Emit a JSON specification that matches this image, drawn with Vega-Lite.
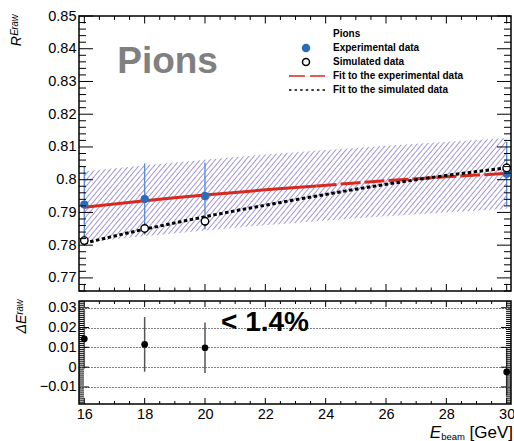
{
"$schema":"https://vega.github.io/schema/vega-lite/v6.json",
"background":"white",
"padding":{"left":8,"top":7,"right":0,"bottom":0},
"bounds":"flush",
"spacing":10,
"config":{"view":{"stroke":"black","strokeWidth":1.5},"font":"Liberation Sans",
"axis":{"domain":false,"grid":false,"labelFont":"Liberation Sans","labelFontSize":14.5,"labelColor":"black","labelOverlap":false,"labelFlush":false,"labelBound":false,"titleFont":"Liberation Sans","titleFontSize":14,"titleColor":"black","titleFontWeight":"normal"}},
"resolve":{"scale":{"fill":"independent","stroke":"independent","shape":"independent"}},
"datasets":{
"band":[{"E":16,"lo":0.7808,"hi":0.8026},{"E":18,"lo":0.7827,"hi":0.8044},{"E":20,"lo":0.7845,"hi":0.8061},{"E":22,"lo":0.7861,"hi":0.8077},{"E":24,"lo":0.7875,"hi":0.8091},{"E":26,"lo":0.7888,"hi":0.8104},{"E":28,"lo":0.79,"hi":0.8116},{"E":30,"lo":0.7911,"hi":0.8127}],
"pts":[{"series":"Experimental data","E":16,"R":0.7924,"lo":0.7807,"hi":0.8041},{"series":"Experimental data","E":18,"R":0.7941,"lo":0.7832,"hi":0.805},{"series":"Experimental data","E":20,"R":0.795,"lo":0.7848,"hi":0.8052},{"series":"Experimental data","E":30,"R":0.8018,"lo":0.7921,"hi":0.8115},{"series":"Simulated data","E":16,"R":0.7814,"lo":0.7799,"hi":0.7829},{"series":"Simulated data","E":18,"R":0.7851,"lo":0.7836,"hi":0.7866},{"series":"Simulated data","E":20,"R":0.7873,"lo":0.7858,"hi":0.7888},{"series":"Simulated data","E":30,"R":0.8036,"lo":0.8021,"hi":0.8051}],
"fitExpSolid":[{"E":16,"R":0.7916},{"E":17,"R":0.7926},{"E":18,"R":0.7936},{"E":19,"R":0.7945},{"E":20,"R":0.7953},{"E":21,"R":0.7961},{"E":22,"R":0.7969},{"E":23,"R":0.7976},{"E":23.7,"R":0.7981}],
"fitExpDash":[{"E":23.7,"R":0.7981},{"E":25,"R":0.799},{"E":26,"R":0.7997},{"E":27,"R":0.8003},{"E":28,"R":0.8009},{"E":29,"R":0.8014},{"E":30,"R":0.8019}],
"fitSim":[{"E":16,"R":0.7806},{"E":17,"R":0.7828},{"E":18,"R":0.7849},{"E":19,"R":0.7868},{"E":20,"R":0.7887},{"E":21,"R":0.7905},{"E":22,"R":0.7922},{"E":23,"R":0.7939},{"E":24,"R":0.7955},{"E":25,"R":0.7971},{"E":26,"R":0.7986},{"E":27,"R":0.8},{"E":28,"R":0.8013},{"E":29,"R":0.8025},{"E":30,"R":0.8036}],
"diff":[{"E":16,"d":0.0143,"lo":-0.0007,"hi":0.0293},{"E":18,"d":0.0115,"lo":-0.0023,"hi":0.0253},{"E":20,"d":0.0098,"lo":-0.003,"hi":0.0226},{"E":30,"d":-0.0024,"lo":-0.0144,"hi":0.0096}],
"tkX":[{"v":16},{"v":16.5},{"v":17},{"v":17.5},{"v":18},{"v":18.5},{"v":19},{"v":19.5},{"v":20},{"v":20.5},{"v":21},{"v":21.5},{"v":22},{"v":22.5},{"v":23},{"v":23.5},{"v":24},{"v":24.5},{"v":25},{"v":25.5},{"v":26},{"v":26.5},{"v":27},{"v":27.5},{"v":28},{"v":28.5},{"v":29},{"v":29.5},{"v":30}],
"tkYTop":[{"v":0.766},{"v":0.768},{"v":0.77},{"v":0.772},{"v":0.774},{"v":0.776},{"v":0.778},{"v":0.78},{"v":0.782},{"v":0.784},{"v":0.786},{"v":0.788},{"v":0.79},{"v":0.792},{"v":0.794},{"v":0.796},{"v":0.798},{"v":0.8},{"v":0.802},{"v":0.804},{"v":0.806},{"v":0.808},{"v":0.81},{"v":0.812},{"v":0.814},{"v":0.816},{"v":0.818},{"v":0.82},{"v":0.822},{"v":0.824},{"v":0.826},{"v":0.828},{"v":0.83},{"v":0.832},{"v":0.834},{"v":0.836},{"v":0.838},{"v":0.84},{"v":0.842},{"v":0.844},{"v":0.846},{"v":0.848},{"v":0.85}],
"tkYBot":[{"v":-0.018},{"v":-0.017},{"v":-0.016},{"v":-0.015},{"v":-0.014},{"v":-0.013},{"v":-0.012},{"v":-0.011},{"v":-0.01},{"v":-0.009},{"v":-0.008},{"v":-0.007},{"v":-0.006},{"v":-0.005},{"v":-0.004},{"v":-0.003},{"v":-0.002},{"v":-0.001},{"v":0},{"v":0.001},{"v":0.002},{"v":0.003},{"v":0.004},{"v":0.005},{"v":0.006},{"v":0.007},{"v":0.008},{"v":0.009},{"v":0.01},{"v":0.011},{"v":0.012},{"v":0.013},{"v":0.014},{"v":0.015},{"v":0.016},{"v":0.017},{"v":0.018},{"v":0.019},{"v":0.02},{"v":0.021},{"v":0.022},{"v":0.023},{"v":0.024},{"v":0.025},{"v":0.026},{"v":0.027},{"v":0.028},{"v":0.029},{"v":0.03},{"v":0.031},{"v":0.032},{"v":0.033}]
},
"vconcat":[
{"width":432,"height":275,
"layer":[
{"data":{"name":"band"},
"mark":{"type":"area","stroke":null,"fill":{"gradient":"linear","x1":0,"y1":0,"x2":1.1575,"y2":0.2396,"stops":[
{"offset":0,"color":"#fff"},{"offset":0.0025,"color":"#a194d8"},{"offset":0.005,"color":"#fff"},
{"offset":0.01,"color":"#fff"},{"offset":0.0125,"color":"#a194d8"},{"offset":0.015,"color":"#fff"},
{"offset":0.02,"color":"#fff"},{"offset":0.0225,"color":"#a194d8"},{"offset":0.025,"color":"#fff"},
{"offset":0.03,"color":"#fff"},{"offset":0.0325,"color":"#a194d8"},{"offset":0.035,"color":"#fff"},
{"offset":0.04,"color":"#fff"},{"offset":0.0425,"color":"#a194d8"},{"offset":0.045,"color":"#fff"},
{"offset":0.05,"color":"#fff"},{"offset":0.0525,"color":"#a194d8"},{"offset":0.055,"color":"#fff"},
{"offset":0.06,"color":"#fff"},{"offset":0.0625,"color":"#a194d8"},{"offset":0.065,"color":"#fff"},
{"offset":0.07,"color":"#fff"},{"offset":0.0725,"color":"#a194d8"},{"offset":0.075,"color":"#fff"},
{"offset":0.08,"color":"#fff"},{"offset":0.0825,"color":"#a194d8"},{"offset":0.085,"color":"#fff"},
{"offset":0.09,"color":"#fff"},{"offset":0.0925,"color":"#a194d8"},{"offset":0.095,"color":"#fff"},
{"offset":0.1,"color":"#fff"},{"offset":0.1025,"color":"#a194d8"},{"offset":0.105,"color":"#fff"},
{"offset":0.11,"color":"#fff"},{"offset":0.1125,"color":"#a194d8"},{"offset":0.115,"color":"#fff"},
{"offset":0.12,"color":"#fff"},{"offset":0.1225,"color":"#a194d8"},{"offset":0.125,"color":"#fff"},
{"offset":0.13,"color":"#fff"},{"offset":0.1325,"color":"#a194d8"},{"offset":0.135,"color":"#fff"},
{"offset":0.14,"color":"#fff"},{"offset":0.1425,"color":"#a194d8"},{"offset":0.145,"color":"#fff"},
{"offset":0.15,"color":"#fff"},{"offset":0.1525,"color":"#a194d8"},{"offset":0.155,"color":"#fff"},
{"offset":0.16,"color":"#fff"},{"offset":0.1625,"color":"#a194d8"},{"offset":0.165,"color":"#fff"},
{"offset":0.17,"color":"#fff"},{"offset":0.1725,"color":"#a194d8"},{"offset":0.175,"color":"#fff"},
{"offset":0.18,"color":"#fff"},{"offset":0.1825,"color":"#a194d8"},{"offset":0.185,"color":"#fff"},
{"offset":0.19,"color":"#fff"},{"offset":0.1925,"color":"#a194d8"},{"offset":0.195,"color":"#fff"},
{"offset":0.2,"color":"#fff"},{"offset":0.2025,"color":"#a194d8"},{"offset":0.205,"color":"#fff"},
{"offset":0.21,"color":"#fff"},{"offset":0.2125,"color":"#a194d8"},{"offset":0.215,"color":"#fff"},
{"offset":0.22,"color":"#fff"},{"offset":0.2225,"color":"#a194d8"},{"offset":0.225,"color":"#fff"},
{"offset":0.23,"color":"#fff"},{"offset":0.2325,"color":"#a194d8"},{"offset":0.235,"color":"#fff"},
{"offset":0.24,"color":"#fff"},{"offset":0.2425,"color":"#a194d8"},{"offset":0.245,"color":"#fff"},
{"offset":0.25,"color":"#fff"},{"offset":0.2525,"color":"#a194d8"},{"offset":0.255,"color":"#fff"},
{"offset":0.26,"color":"#fff"},{"offset":0.2625,"color":"#a194d8"},{"offset":0.265,"color":"#fff"},
{"offset":0.27,"color":"#fff"},{"offset":0.2725,"color":"#a194d8"},{"offset":0.275,"color":"#fff"},
{"offset":0.28,"color":"#fff"},{"offset":0.2825,"color":"#a194d8"},{"offset":0.285,"color":"#fff"},
{"offset":0.29,"color":"#fff"},{"offset":0.2925,"color":"#a194d8"},{"offset":0.295,"color":"#fff"},
{"offset":0.3,"color":"#fff"},{"offset":0.3025,"color":"#a194d8"},{"offset":0.305,"color":"#fff"},
{"offset":0.31,"color":"#fff"},{"offset":0.3125,"color":"#a194d8"},{"offset":0.315,"color":"#fff"},
{"offset":0.32,"color":"#fff"},{"offset":0.3225,"color":"#a194d8"},{"offset":0.325,"color":"#fff"},
{"offset":0.33,"color":"#fff"},{"offset":0.3325,"color":"#a194d8"},{"offset":0.335,"color":"#fff"},
{"offset":0.34,"color":"#fff"},{"offset":0.3425,"color":"#a194d8"},{"offset":0.345,"color":"#fff"},
{"offset":0.35,"color":"#fff"},{"offset":0.3525,"color":"#a194d8"},{"offset":0.355,"color":"#fff"},
{"offset":0.36,"color":"#fff"},{"offset":0.3625,"color":"#a194d8"},{"offset":0.365,"color":"#fff"},
{"offset":0.37,"color":"#fff"},{"offset":0.3725,"color":"#a194d8"},{"offset":0.375,"color":"#fff"},
{"offset":0.38,"color":"#fff"},{"offset":0.3825,"color":"#a194d8"},{"offset":0.385,"color":"#fff"},
{"offset":0.39,"color":"#fff"},{"offset":0.3925,"color":"#a194d8"},{"offset":0.395,"color":"#fff"},
{"offset":0.4,"color":"#fff"},{"offset":0.4025,"color":"#a194d8"},{"offset":0.405,"color":"#fff"},
{"offset":0.41,"color":"#fff"},{"offset":0.4125,"color":"#a194d8"},{"offset":0.415,"color":"#fff"},
{"offset":0.42,"color":"#fff"},{"offset":0.4225,"color":"#a194d8"},{"offset":0.425,"color":"#fff"},
{"offset":0.43,"color":"#fff"},{"offset":0.4325,"color":"#a194d8"},{"offset":0.435,"color":"#fff"},
{"offset":0.44,"color":"#fff"},{"offset":0.4425,"color":"#a194d8"},{"offset":0.445,"color":"#fff"},
{"offset":0.45,"color":"#fff"},{"offset":0.4525,"color":"#a194d8"},{"offset":0.455,"color":"#fff"},
{"offset":0.46,"color":"#fff"},{"offset":0.4625,"color":"#a194d8"},{"offset":0.465,"color":"#fff"},
{"offset":0.47,"color":"#fff"},{"offset":0.4725,"color":"#a194d8"},{"offset":0.475,"color":"#fff"},
{"offset":0.48,"color":"#fff"},{"offset":0.4825,"color":"#a194d8"},{"offset":0.485,"color":"#fff"},
{"offset":0.49,"color":"#fff"},{"offset":0.4925,"color":"#a194d8"},{"offset":0.495,"color":"#fff"},
{"offset":0.5,"color":"#fff"},{"offset":0.5025,"color":"#a194d8"},{"offset":0.505,"color":"#fff"},
{"offset":0.51,"color":"#fff"},{"offset":0.5125,"color":"#a194d8"},{"offset":0.515,"color":"#fff"},
{"offset":0.52,"color":"#fff"},{"offset":0.5225,"color":"#a194d8"},{"offset":0.525,"color":"#fff"},
{"offset":0.53,"color":"#fff"},{"offset":0.5325,"color":"#a194d8"},{"offset":0.535,"color":"#fff"},
{"offset":0.54,"color":"#fff"},{"offset":0.5425,"color":"#a194d8"},{"offset":0.545,"color":"#fff"},
{"offset":0.55,"color":"#fff"},{"offset":0.5525,"color":"#a194d8"},{"offset":0.555,"color":"#fff"},
{"offset":0.56,"color":"#fff"},{"offset":0.5625,"color":"#a194d8"},{"offset":0.565,"color":"#fff"},
{"offset":0.57,"color":"#fff"},{"offset":0.5725,"color":"#a194d8"},{"offset":0.575,"color":"#fff"},
{"offset":0.58,"color":"#fff"},{"offset":0.5825,"color":"#a194d8"},{"offset":0.585,"color":"#fff"},
{"offset":0.59,"color":"#fff"},{"offset":0.5925,"color":"#a194d8"},{"offset":0.595,"color":"#fff"},
{"offset":0.6,"color":"#fff"},{"offset":0.6025,"color":"#a194d8"},{"offset":0.605,"color":"#fff"},
{"offset":0.61,"color":"#fff"},{"offset":0.6125,"color":"#a194d8"},{"offset":0.615,"color":"#fff"},
{"offset":0.62,"color":"#fff"},{"offset":0.6225,"color":"#a194d8"},{"offset":0.625,"color":"#fff"},
{"offset":0.63,"color":"#fff"},{"offset":0.6325,"color":"#a194d8"},{"offset":0.635,"color":"#fff"},
{"offset":0.64,"color":"#fff"},{"offset":0.6425,"color":"#a194d8"},{"offset":0.645,"color":"#fff"},
{"offset":0.65,"color":"#fff"},{"offset":0.6525,"color":"#a194d8"},{"offset":0.655,"color":"#fff"},
{"offset":0.66,"color":"#fff"},{"offset":0.6625,"color":"#a194d8"},{"offset":0.665,"color":"#fff"},
{"offset":0.67,"color":"#fff"},{"offset":0.6725,"color":"#a194d8"},{"offset":0.675,"color":"#fff"},
{"offset":0.68,"color":"#fff"},{"offset":0.6825,"color":"#a194d8"},{"offset":0.685,"color":"#fff"},
{"offset":0.69,"color":"#fff"},{"offset":0.6925,"color":"#a194d8"},{"offset":0.695,"color":"#fff"},
{"offset":0.7,"color":"#fff"},{"offset":0.7025,"color":"#a194d8"},{"offset":0.705,"color":"#fff"},
{"offset":0.71,"color":"#fff"},{"offset":0.7125,"color":"#a194d8"},{"offset":0.715,"color":"#fff"},
{"offset":0.72,"color":"#fff"},{"offset":0.7225,"color":"#a194d8"},{"offset":0.725,"color":"#fff"},
{"offset":0.73,"color":"#fff"},{"offset":0.7325,"color":"#a194d8"},{"offset":0.735,"color":"#fff"},
{"offset":0.74,"color":"#fff"},{"offset":0.7425,"color":"#a194d8"},{"offset":0.745,"color":"#fff"},
{"offset":0.75,"color":"#fff"},{"offset":0.7525,"color":"#a194d8"},{"offset":0.755,"color":"#fff"},
{"offset":0.76,"color":"#fff"},{"offset":0.7625,"color":"#a194d8"},{"offset":0.765,"color":"#fff"},
{"offset":0.77,"color":"#fff"},{"offset":0.7725,"color":"#a194d8"},{"offset":0.775,"color":"#fff"},
{"offset":0.78,"color":"#fff"},{"offset":0.7825,"color":"#a194d8"},{"offset":0.785,"color":"#fff"},
{"offset":0.79,"color":"#fff"},{"offset":0.7925,"color":"#a194d8"},{"offset":0.795,"color":"#fff"},
{"offset":0.8,"color":"#fff"},{"offset":0.8025,"color":"#a194d8"},{"offset":0.805,"color":"#fff"},
{"offset":0.81,"color":"#fff"},{"offset":0.8125,"color":"#a194d8"},{"offset":0.815,"color":"#fff"},
{"offset":0.82,"color":"#fff"},{"offset":0.8225,"color":"#a194d8"},{"offset":0.825,"color":"#fff"},
{"offset":0.83,"color":"#fff"},{"offset":0.8325,"color":"#a194d8"},{"offset":0.835,"color":"#fff"},
{"offset":0.84,"color":"#fff"},{"offset":0.8425,"color":"#a194d8"},{"offset":0.845,"color":"#fff"},
{"offset":0.85,"color":"#fff"},{"offset":0.8525,"color":"#a194d8"},{"offset":0.855,"color":"#fff"},
{"offset":0.86,"color":"#fff"},{"offset":0.8625,"color":"#a194d8"},{"offset":0.865,"color":"#fff"},
{"offset":0.87,"color":"#fff"},{"offset":0.8725,"color":"#a194d8"},{"offset":0.875,"color":"#fff"},
{"offset":0.88,"color":"#fff"},{"offset":0.8825,"color":"#a194d8"},{"offset":0.885,"color":"#fff"},
{"offset":0.89,"color":"#fff"},{"offset":0.8925,"color":"#a194d8"},{"offset":0.895,"color":"#fff"},
{"offset":0.9,"color":"#fff"},{"offset":0.9025,"color":"#a194d8"},{"offset":0.905,"color":"#fff"},
{"offset":0.91,"color":"#fff"},{"offset":0.9125,"color":"#a194d8"},{"offset":0.915,"color":"#fff"},
{"offset":0.92,"color":"#fff"},{"offset":0.9225,"color":"#a194d8"},{"offset":0.925,"color":"#fff"},
{"offset":0.93,"color":"#fff"},{"offset":0.9325,"color":"#a194d8"},{"offset":0.935,"color":"#fff"},
{"offset":0.94,"color":"#fff"},{"offset":0.9425,"color":"#a194d8"},{"offset":0.945,"color":"#fff"},
{"offset":0.95,"color":"#fff"},{"offset":0.9525,"color":"#a194d8"},{"offset":0.955,"color":"#fff"},
{"offset":0.96,"color":"#fff"},{"offset":0.9625,"color":"#a194d8"},{"offset":0.965,"color":"#fff"},
{"offset":0.97,"color":"#fff"},{"offset":0.9725,"color":"#a194d8"},{"offset":0.975,"color":"#fff"},
{"offset":0.98,"color":"#fff"},{"offset":0.9825,"color":"#a194d8"},{"offset":0.985,"color":"#fff"},
{"offset":0.99,"color":"#fff"},{"offset":0.9925,"color":"#a194d8"},{"offset":0.995,"color":"#fff"},
{"offset":1,"color":"#fff"}]}},
"encoding":{
"x":{"field":"E","type":"quantitative","scale":{"domain":[15.824,30.143],"nice":false,"zero":false},"axis":null},
"y":{"field":"lo","type":"quantitative","scale":{"domain":[0.766,0.85],"nice":false,"zero":false},"axis":{"orient":"left","values":[0.77,0.78,0.79,0.8,0.81,0.82,0.83,0.84,0.85],"labelExpr":"format(datum.value,'.2~f')","ticks":false,"tickSize":0,"labelPadding":3,"title":"Rᴱʳᵃʷ","titleFontStyle":"italic","titleX":-56,"titleY":-2,"titleAngle":270,"titleAlign":"right","titleBaseline":"bottom"}},
"y2":{"field":"hi"}}},
{"data":{"name":"fitExpSolid"},
"mark":{"type":"line","color":"#d9291c","strokeWidth":3},
"encoding":{
"x":{"field":"E","type":"quantitative","scale":{"domain":[15.824,30.143],"nice":false,"zero":false},"axis":null},
"y":{"field":"R","type":"quantitative","scale":{"domain":[0.766,0.85],"nice":false,"zero":false},"axis":{"orient":"left","values":[0.77,0.78,0.79,0.8,0.81,0.82,0.83,0.84,0.85],"labelExpr":"format(datum.value,'.2~f')","ticks":false,"tickSize":0,"labelPadding":3,"title":"Rᴱʳᵃʷ","titleFontStyle":"italic","titleX":-56,"titleY":-2,"titleAngle":270,"titleAlign":"right","titleBaseline":"bottom"}}}},
{"data":{"name":"fitExpDash"},
"mark":{"type":"line","color":"#d9291c","strokeWidth":3,"strokeDash":[20,4]},
"encoding":{
"x":{"field":"E","type":"quantitative","scale":{"domain":[15.824,30.143],"nice":false,"zero":false},"axis":null},
"y":{"field":"R","type":"quantitative","scale":{"domain":[0.766,0.85],"nice":false,"zero":false},"axis":{"orient":"left","values":[0.77,0.78,0.79,0.8,0.81,0.82,0.83,0.84,0.85],"labelExpr":"format(datum.value,'.2~f')","ticks":false,"tickSize":0,"labelPadding":3,"title":"Rᴱʳᵃʷ","titleFontStyle":"italic","titleX":-56,"titleY":-2,"titleAngle":270,"titleAlign":"right","titleBaseline":"bottom"}}}},
{"data":{"name":"fitSim"},
"mark":{"type":"line","color":"black","strokeWidth":3,"strokeDash":[3.5,2.5]},
"encoding":{
"x":{"field":"E","type":"quantitative","scale":{"domain":[15.824,30.143],"nice":false,"zero":false},"axis":null},
"y":{"field":"R","type":"quantitative","scale":{"domain":[0.766,0.85],"nice":false,"zero":false},"axis":{"orient":"left","values":[0.77,0.78,0.79,0.8,0.81,0.82,0.83,0.84,0.85],"labelExpr":"format(datum.value,'.2~f')","ticks":false,"tickSize":0,"labelPadding":3,"title":"Rᴱʳᵃʷ","titleFontStyle":"italic","titleX":-56,"titleY":-2,"titleAngle":270,"titleAlign":"right","titleBaseline":"bottom"}}}},
{"data":{"name":"pts"},
"mark":{"type":"rule","strokeWidth":1.4},
"encoding":{
"x":{"field":"E","type":"quantitative","scale":{"domain":[15.824,30.143],"nice":false,"zero":false},"axis":null},
"y":{"field":"lo","type":"quantitative","scale":{"domain":[0.766,0.85],"nice":false,"zero":false},"axis":{"orient":"left","values":[0.77,0.78,0.79,0.8,0.81,0.82,0.83,0.84,0.85],"labelExpr":"format(datum.value,'.2~f')","ticks":false,"tickSize":0,"labelPadding":3,"title":"Rᴱʳᵃʷ","titleFontStyle":"italic","titleX":-56,"titleY":-2,"titleAngle":270,"titleAlign":"right","titleBaseline":"bottom"}},
"y2":{"field":"hi"},
"stroke":{"condition":{"test":"datum.series === 'Simulated data'","value":"black"},"value":"#5b8fd3"}}},
{"data":{"name":"pts"},
"mark":{"type":"point","filled":true,"size":56,"opacity":1},
"encoding":{
"x":{"field":"E","type":"quantitative","scale":{"domain":[15.824,30.143],"nice":false,"zero":false},"axis":null},
"y":{"field":"R","type":"quantitative","scale":{"domain":[0.766,0.85],"nice":false,"zero":false},"axis":{"orient":"left","values":[0.77,0.78,0.79,0.8,0.81,0.82,0.83,0.84,0.85],"labelExpr":"format(datum.value,'.2~f')","ticks":false,"tickSize":0,"labelPadding":3,"title":"Rᴱʳᵃʷ","titleFontStyle":"italic","titleX":-56,"titleY":-2,"titleAngle":270,"titleAlign":"right","titleBaseline":"bottom"}},
"strokeWidth":{"condition":{"test":"datum.series === 'Simulated data'","value":1.4},"value":1},
"fill":{"field":"series","type":"nominal","scale":{"domain":["Pions","Experimental data","Simulated data","Fit to the experimental data","Fit to the simulated data"],"range":["transparent","#2b6cb5","white","transparent","transparent"]},
"legend":{"title":null,"orient":"none","legendX":204,"legendY":11,"labelFont":"Liberation Sans","labelFontSize":10,"labelFontWeight":"bold","labelColor":"black","labelLimit":0,"labelOffset":22,"symbolOffset":18,"rowPadding":0,"clipHeight":14,"symbolSize":49,"encode":{"symbols":{"update":{"strokeWidth":{"signal":"datum.value === 'Simulated data' ? 1.3 : datum.value === 'Fit to the experimental data' ? 3 : datum.value === 'Fit to the simulated data' ? 2.5 : 1"}}}}}},
"stroke":{"field":"series","type":"nominal","scale":{"domain":["Pions","Experimental data","Simulated data","Fit to the experimental data","Fit to the simulated data"],"range":["transparent","#2b6cb5","black","#d9291c","black"]},
"legend":{"title":null,"orient":"none","legendX":204,"legendY":11,"labelFont":"Liberation Sans","labelFontSize":10,"labelFontWeight":"bold","labelColor":"black","labelLimit":0,"labelOffset":22,"symbolOffset":18,"rowPadding":0,"clipHeight":14,"symbolSize":49,"encode":{"symbols":{"update":{"strokeWidth":{"signal":"datum.value === 'Simulated data' ? 1.3 : datum.value === 'Fit to the experimental data' ? 3 : datum.value === 'Fit to the simulated data' ? 2.5 : 1"}}}}}},
"shape":{"field":"series","type":"nominal","scale":{"domain":["Pions","Experimental data","Simulated data","Fit to the experimental data","Fit to the simulated data"],"range":["circle","circle","circle","M-4.86,0H-0.29M1.14,0H5.43","M-4.86,0H-4.15M-3.26,0H-2.55M-1.67,0H-0.96M-0.07,0H0.64M1.53,0H2.24M3.12,0H3.83M4.72,0H5.43"]},
"legend":{"title":null,"orient":"none","legendX":204,"legendY":11,"labelFont":"Liberation Sans","labelFontSize":10,"labelFontWeight":"bold","labelColor":"black","labelLimit":0,"labelOffset":22,"symbolOffset":18,"rowPadding":0,"clipHeight":14,"symbolSize":49,"encode":{"symbols":{"update":{"strokeWidth":{"signal":"datum.value === 'Simulated data' ? 1.3 : datum.value === 'Fit to the experimental data' ? 3 : datum.value === 'Fit to the simulated data' ? 2.5 : 1"}}}}}}}},
{"data":{"values":[{}]},
"mark":{"type":"text","text":"Pions","font":"Liberation Sans","fontSize":37,"fontWeight":"bold","color":"#808080","align":"center","baseline":"alphabetic"},
"encoding":{
"x":{"datum":18.76,"type":"quantitative","scale":{"domain":[15.824,30.143],"nice":false,"zero":false},"axis":null},
"y":{"datum":0.8327,"type":"quantitative","scale":{"domain":[0.766,0.85],"nice":false,"zero":false},"axis":{"orient":"left","values":[0.77,0.78,0.79,0.8,0.81,0.82,0.83,0.84,0.85],"labelExpr":"format(datum.value,'.2~f')","ticks":false,"tickSize":0,"labelPadding":3,"title":"Rᴱʳᵃʷ","titleFontStyle":"italic","titleX":-56,"titleY":-2,"titleAngle":270,"titleAlign":"right","titleBaseline":"bottom"}}}},
{"data":{"name":"tkYTop"},"transform":[{"filter":"abs(datum.v*100-round(datum.v*100))<0.01"}],
"mark":{"type":"rule","color":"black","strokeWidth":1},
"encoding":{
"y":{"field":"v","type":"quantitative","scale":{"domain":[0.766,0.85],"nice":false,"zero":false},"axis":{"orient":"left","values":[0.77,0.78,0.79,0.8,0.81,0.82,0.83,0.84,0.85],"labelExpr":"format(datum.value,'.2~f')","ticks":false,"tickSize":0,"labelPadding":3,"title":"Rᴱʳᵃʷ","titleFontStyle":"italic","titleX":-56,"titleY":-2,"titleAngle":270,"titleAlign":"right","titleBaseline":"bottom"}},
"x":{"datum":15.824,"type":"quantitative","scale":{"domain":[15.824,30.143],"nice":false,"zero":false},"axis":null},
"x2":{"datum":16.288}}},
{"data":{"name":"tkYTop"},"transform":[{"filter":"abs(datum.v*100-round(datum.v*100))>=0.01"}],
"mark":{"type":"rule","color":"black","strokeWidth":1},
"encoding":{
"y":{"field":"v","type":"quantitative","scale":{"domain":[0.766,0.85],"nice":false,"zero":false},"axis":{"orient":"left","values":[0.77,0.78,0.79,0.8,0.81,0.82,0.83,0.84,0.85],"labelExpr":"format(datum.value,'.2~f')","ticks":false,"tickSize":0,"labelPadding":3,"title":"Rᴱʳᵃʷ","titleFontStyle":"italic","titleX":-56,"titleY":-2,"titleAngle":270,"titleAlign":"right","titleBaseline":"bottom"}},
"x":{"datum":15.824,"type":"quantitative","scale":{"domain":[15.824,30.143],"nice":false,"zero":false},"axis":null},
"x2":{"datum":16.056}}},
{"data":{"name":"tkYTop"},"transform":[{"filter":"abs(datum.v*100-round(datum.v*100))<0.01"}],
"mark":{"type":"rule","color":"black","strokeWidth":1},
"encoding":{
"y":{"field":"v","type":"quantitative","scale":{"domain":[0.766,0.85],"nice":false,"zero":false},"axis":{"orient":"left","values":[0.77,0.78,0.79,0.8,0.81,0.82,0.83,0.84,0.85],"labelExpr":"format(datum.value,'.2~f')","ticks":false,"tickSize":0,"labelPadding":3,"title":"Rᴱʳᵃʷ","titleFontStyle":"italic","titleX":-56,"titleY":-2,"titleAngle":270,"titleAlign":"right","titleBaseline":"bottom"}},
"x":{"datum":30.143,"type":"quantitative","scale":{"domain":[15.824,30.143],"nice":false,"zero":false},"axis":null},
"x2":{"datum":29.679}}},
{"data":{"name":"tkYTop"},"transform":[{"filter":"abs(datum.v*100-round(datum.v*100))>=0.01"}],
"mark":{"type":"rule","color":"black","strokeWidth":1},
"encoding":{
"y":{"field":"v","type":"quantitative","scale":{"domain":[0.766,0.85],"nice":false,"zero":false},"axis":{"orient":"left","values":[0.77,0.78,0.79,0.8,0.81,0.82,0.83,0.84,0.85],"labelExpr":"format(datum.value,'.2~f')","ticks":false,"tickSize":0,"labelPadding":3,"title":"Rᴱʳᵃʷ","titleFontStyle":"italic","titleX":-56,"titleY":-2,"titleAngle":270,"titleAlign":"right","titleBaseline":"bottom"}},
"x":{"datum":30.143,"type":"quantitative","scale":{"domain":[15.824,30.143],"nice":false,"zero":false},"axis":null},
"x2":{"datum":29.911}}},
{"data":{"name":"tkX"},"transform":[{"filter":"datum.v % 2 === 0"}],
"mark":{"type":"rule","color":"black","strokeWidth":1},
"encoding":{
"x":{"field":"v","type":"quantitative","scale":{"domain":[15.824,30.143],"nice":false,"zero":false},"axis":null},
"y":{"datum":0.766,"type":"quantitative","scale":{"domain":[0.766,0.85],"nice":false,"zero":false},"axis":{"orient":"left","values":[0.77,0.78,0.79,0.8,0.81,0.82,0.83,0.84,0.85],"labelExpr":"format(datum.value,'.2~f')","ticks":false,"tickSize":0,"labelPadding":3,"title":"Rᴱʳᵃʷ","titleFontStyle":"italic","titleX":-56,"titleY":-2,"titleAngle":270,"titleAlign":"right","titleBaseline":"bottom"}},
"y2":{"datum":0.76814}}},
{"data":{"name":"tkX"},"transform":[{"filter":"datum.v % 2 !== 0"}],
"mark":{"type":"rule","color":"black","strokeWidth":1},
"encoding":{
"x":{"field":"v","type":"quantitative","scale":{"domain":[15.824,30.143],"nice":false,"zero":false},"axis":null},
"y":{"datum":0.766,"type":"quantitative","scale":{"domain":[0.766,0.85],"nice":false,"zero":false},"axis":{"orient":"left","values":[0.77,0.78,0.79,0.8,0.81,0.82,0.83,0.84,0.85],"labelExpr":"format(datum.value,'.2~f')","ticks":false,"tickSize":0,"labelPadding":3,"title":"Rᴱʳᵃʷ","titleFontStyle":"italic","titleX":-56,"titleY":-2,"titleAngle":270,"titleAlign":"right","titleBaseline":"bottom"}},
"y2":{"datum":0.76707}}},
{"data":{"name":"tkX"},"transform":[{"filter":"datum.v % 2 === 0"}],
"mark":{"type":"rule","color":"black","strokeWidth":1},
"encoding":{
"x":{"field":"v","type":"quantitative","scale":{"domain":[15.824,30.143],"nice":false,"zero":false},"axis":null},
"y":{"datum":0.85,"type":"quantitative","scale":{"domain":[0.766,0.85],"nice":false,"zero":false},"axis":{"orient":"left","values":[0.77,0.78,0.79,0.8,0.81,0.82,0.83,0.84,0.85],"labelExpr":"format(datum.value,'.2~f')","ticks":false,"tickSize":0,"labelPadding":3,"title":"Rᴱʳᵃʷ","titleFontStyle":"italic","titleX":-56,"titleY":-2,"titleAngle":270,"titleAlign":"right","titleBaseline":"bottom"}},
"y2":{"datum":0.84771}}},
{"data":{"name":"tkX"},"transform":[{"filter":"datum.v % 2 !== 0"}],
"mark":{"type":"rule","color":"black","strokeWidth":1},
"encoding":{
"x":{"field":"v","type":"quantitative","scale":{"domain":[15.824,30.143],"nice":false,"zero":false},"axis":null},
"y":{"datum":0.85,"type":"quantitative","scale":{"domain":[0.766,0.85],"nice":false,"zero":false},"axis":{"orient":"left","values":[0.77,0.78,0.79,0.8,0.81,0.82,0.83,0.84,0.85],"labelExpr":"format(datum.value,'.2~f')","ticks":false,"tickSize":0,"labelPadding":3,"title":"Rᴱʳᵃʷ","titleFontStyle":"italic","titleX":-56,"titleY":-2,"titleAngle":270,"titleAlign":"right","titleBaseline":"bottom"}},
"y2":{"datum":0.84878}}}
]},
{"width":432,"height":103,
"layer":[
{"data":{"name":"diff"},
"mark":{"type":"rule","color":"#555555","strokeWidth":1.5},
"encoding":{
"x":{"field":"E","type":"quantitative","scale":{"domain":[15.824,30.143],"nice":false,"zero":false},"axis":{"orient":"bottom","values":[16,18,20,22,24,26,28,30],"labelExpr":"format(datum.value,'d')","ticks":false,"tickSize":0,"labelPadding":3,"title":null}},
"y":{"field":"lo","type":"quantitative","scale":{"domain":[-0.0186,0.0334],"nice":false,"zero":false},"axis":{"orient":"left","values":[-0.01,0,0.01,0.02,0.03],"labelExpr":"format(datum.value,'.2~f')","ticks":false,"tickSize":0,"labelPadding":3,"grid":true,"gridColor":"black","gridDash":[1,2],"gridWidth":1,"title":"ΔEʳᵃʷ","titleFontStyle":"italic","titleX":-51,"titleY":-2,"titleAngle":270,"titleAlign":"right","titleBaseline":"bottom"}},
"y2":{"field":"hi"}}},
{"data":{"name":"diff"},
"mark":{"type":"point","filled":true,"size":45,"opacity":1,"color":"black"},
"encoding":{
"x":{"field":"E","type":"quantitative","scale":{"domain":[15.824,30.143],"nice":false,"zero":false},"axis":{"orient":"bottom","values":[16,18,20,22,24,26,28,30],"labelExpr":"format(datum.value,'d')","ticks":false,"tickSize":0,"labelPadding":3,"title":null}},
"y":{"field":"d","type":"quantitative","scale":{"domain":[-0.0186,0.0334],"nice":false,"zero":false},"axis":{"orient":"left","values":[-0.01,0,0.01,0.02,0.03],"labelExpr":"format(datum.value,'.2~f')","ticks":false,"tickSize":0,"labelPadding":3,"grid":true,"gridColor":"black","gridDash":[1,2],"gridWidth":1,"title":"ΔEʳᵃʷ","titleFontStyle":"italic","titleX":-51,"titleY":-2,"titleAngle":270,"titleAlign":"right","titleBaseline":"bottom"}}}},
{"data":{"name":"tkYBot"},"transform":[{"filter":"abs(datum.v*100-round(datum.v*100))<0.01"}],
"mark":{"type":"rule","color":"black","strokeWidth":1},
"encoding":{
"y":{"field":"v","type":"quantitative","scale":{"domain":[-0.0186,0.0334],"nice":false,"zero":false},"axis":{"orient":"left","values":[-0.01,0,0.01,0.02,0.03],"labelExpr":"format(datum.value,'.2~f')","ticks":false,"tickSize":0,"labelPadding":3,"grid":true,"gridColor":"black","gridDash":[1,2],"gridWidth":1,"title":"ΔEʳᵃʷ","titleFontStyle":"italic","titleX":-51,"titleY":-2,"titleAngle":270,"titleAlign":"right","titleBaseline":"bottom"}},
"x":{"datum":15.824,"type":"quantitative","scale":{"domain":[15.824,30.143],"nice":false,"zero":false},"axis":{"orient":"bottom","values":[16,18,20,22,24,26,28,30],"labelExpr":"format(datum.value,'d')","ticks":false,"tickSize":0,"labelPadding":3,"title":null}},
"x2":{"datum":16.155}}},
{"data":{"name":"tkYBot"},"transform":[{"filter":"abs(datum.v*100-round(datum.v*100))>=0.01"}],
"mark":{"type":"rule","color":"black","strokeWidth":1},
"encoding":{
"y":{"field":"v","type":"quantitative","scale":{"domain":[-0.0186,0.0334],"nice":false,"zero":false},"axis":{"orient":"left","values":[-0.01,0,0.01,0.02,0.03],"labelExpr":"format(datum.value,'.2~f')","ticks":false,"tickSize":0,"labelPadding":3,"grid":true,"gridColor":"black","gridDash":[1,2],"gridWidth":1,"title":"ΔEʳᵃʷ","titleFontStyle":"italic","titleX":-51,"titleY":-2,"titleAngle":270,"titleAlign":"right","titleBaseline":"bottom"}},
"x":{"datum":15.824,"type":"quantitative","scale":{"domain":[15.824,30.143],"nice":false,"zero":false},"axis":{"orient":"bottom","values":[16,18,20,22,24,26,28,30],"labelExpr":"format(datum.value,'d')","ticks":false,"tickSize":0,"labelPadding":3,"title":null}},
"x2":{"datum":15.99}}},
{"data":{"name":"tkYBot"},"transform":[{"filter":"abs(datum.v*100-round(datum.v*100))<0.01"}],
"mark":{"type":"rule","color":"black","strokeWidth":1},
"encoding":{
"y":{"field":"v","type":"quantitative","scale":{"domain":[-0.0186,0.0334],"nice":false,"zero":false},"axis":{"orient":"left","values":[-0.01,0,0.01,0.02,0.03],"labelExpr":"format(datum.value,'.2~f')","ticks":false,"tickSize":0,"labelPadding":3,"grid":true,"gridColor":"black","gridDash":[1,2],"gridWidth":1,"title":"ΔEʳᵃʷ","titleFontStyle":"italic","titleX":-51,"titleY":-2,"titleAngle":270,"titleAlign":"right","titleBaseline":"bottom"}},
"x":{"datum":30.143,"type":"quantitative","scale":{"domain":[15.824,30.143],"nice":false,"zero":false},"axis":{"orient":"bottom","values":[16,18,20,22,24,26,28,30],"labelExpr":"format(datum.value,'d')","ticks":false,"tickSize":0,"labelPadding":3,"title":null}},
"x2":{"datum":29.812}}},
{"data":{"name":"tkYBot"},"transform":[{"filter":"abs(datum.v*100-round(datum.v*100))>=0.01"}],
"mark":{"type":"rule","color":"black","strokeWidth":1},
"encoding":{
"y":{"field":"v","type":"quantitative","scale":{"domain":[-0.0186,0.0334],"nice":false,"zero":false},"axis":{"orient":"left","values":[-0.01,0,0.01,0.02,0.03],"labelExpr":"format(datum.value,'.2~f')","ticks":false,"tickSize":0,"labelPadding":3,"grid":true,"gridColor":"black","gridDash":[1,2],"gridWidth":1,"title":"ΔEʳᵃʷ","titleFontStyle":"italic","titleX":-51,"titleY":-2,"titleAngle":270,"titleAlign":"right","titleBaseline":"bottom"}},
"x":{"datum":30.143,"type":"quantitative","scale":{"domain":[15.824,30.143],"nice":false,"zero":false},"axis":{"orient":"bottom","values":[16,18,20,22,24,26,28,30],"labelExpr":"format(datum.value,'d')","ticks":false,"tickSize":0,"labelPadding":3,"title":null}},
"x2":{"datum":29.977}}},
{"data":{"name":"tkX"},"transform":[{"filter":"datum.v % 2 === 0"}],
"mark":{"type":"rule","color":"black","strokeWidth":1},
"encoding":{
"x":{"field":"v","type":"quantitative","scale":{"domain":[15.824,30.143],"nice":false,"zero":false},"axis":{"orient":"bottom","values":[16,18,20,22,24,26,28,30],"labelExpr":"format(datum.value,'d')","ticks":false,"tickSize":0,"labelPadding":3,"title":null}},
"y":{"datum":-0.0186,"type":"quantitative","scale":{"domain":[-0.0186,0.0334],"nice":false,"zero":false},"axis":{"orient":"left","values":[-0.01,0,0.01,0.02,0.03],"labelExpr":"format(datum.value,'.2~f')","ticks":false,"tickSize":0,"labelPadding":3,"grid":true,"gridColor":"black","gridDash":[1,2],"gridWidth":1,"title":"ΔEʳᵃʷ","titleFontStyle":"italic","titleX":-51,"titleY":-2,"titleAngle":270,"titleAlign":"right","titleBaseline":"bottom"}},
"y2":{"datum":-0.01557}}},
{"data":{"name":"tkX"},"transform":[{"filter":"datum.v % 2 !== 0"}],
"mark":{"type":"rule","color":"black","strokeWidth":1},
"encoding":{
"x":{"field":"v","type":"quantitative","scale":{"domain":[15.824,30.143],"nice":false,"zero":false},"axis":{"orient":"bottom","values":[16,18,20,22,24,26,28,30],"labelExpr":"format(datum.value,'d')","ticks":false,"tickSize":0,"labelPadding":3,"title":null}},
"y":{"datum":-0.0186,"type":"quantitative","scale":{"domain":[-0.0186,0.0334],"nice":false,"zero":false},"axis":{"orient":"left","values":[-0.01,0,0.01,0.02,0.03],"labelExpr":"format(datum.value,'.2~f')","ticks":false,"tickSize":0,"labelPadding":3,"grid":true,"gridColor":"black","gridDash":[1,2],"gridWidth":1,"title":"ΔEʳᵃʷ","titleFontStyle":"italic","titleX":-51,"titleY":-2,"titleAngle":270,"titleAlign":"right","titleBaseline":"bottom"}},
"y2":{"datum":-0.01709}}},
{"data":{"name":"tkX"},"transform":[{"filter":"datum.v % 2 === 0"}],
"mark":{"type":"rule","color":"black","strokeWidth":1},
"encoding":{
"x":{"field":"v","type":"quantitative","scale":{"domain":[15.824,30.143],"nice":false,"zero":false},"axis":{"orient":"bottom","values":[16,18,20,22,24,26,28,30],"labelExpr":"format(datum.value,'d')","ticks":false,"tickSize":0,"labelPadding":3,"title":null}},
"y":{"datum":0.0334,"type":"quantitative","scale":{"domain":[-0.0186,0.0334],"nice":false,"zero":false},"axis":{"orient":"left","values":[-0.01,0,0.01,0.02,0.03],"labelExpr":"format(datum.value,'.2~f')","ticks":false,"tickSize":0,"labelPadding":3,"grid":true,"gridColor":"black","gridDash":[1,2],"gridWidth":1,"title":"ΔEʳᵃʷ","titleFontStyle":"italic","titleX":-51,"titleY":-2,"titleAngle":270,"titleAlign":"right","titleBaseline":"bottom"}},
"y2":{"datum":0.03037}}},
{"data":{"name":"tkX"},"transform":[{"filter":"datum.v % 2 !== 0"}],
"mark":{"type":"rule","color":"black","strokeWidth":1},
"encoding":{
"x":{"field":"v","type":"quantitative","scale":{"domain":[15.824,30.143],"nice":false,"zero":false},"axis":{"orient":"bottom","values":[16,18,20,22,24,26,28,30],"labelExpr":"format(datum.value,'d')","ticks":false,"tickSize":0,"labelPadding":3,"title":null}},
"y":{"datum":0.0334,"type":"quantitative","scale":{"domain":[-0.0186,0.0334],"nice":false,"zero":false},"axis":{"orient":"left","values":[-0.01,0,0.01,0.02,0.03],"labelExpr":"format(datum.value,'.2~f')","ticks":false,"tickSize":0,"labelPadding":3,"grid":true,"gridColor":"black","gridDash":[1,2],"gridWidth":1,"title":"ΔEʳᵃʷ","titleFontStyle":"italic","titleX":-51,"titleY":-2,"titleAngle":270,"titleAlign":"right","titleBaseline":"bottom"}},
"y2":{"datum":0.03189}}},
{"data":{"values":[{}]},
"mark":{"type":"text","text":"< 1.4%","font":"Liberation Sans","fontSize":28,"fontWeight":"bold","color":"black","align":"center","baseline":"alphabetic"},
"encoding":{
"x":{"datum":21.99,"type":"quantitative","scale":{"domain":[15.824,30.143],"nice":false,"zero":false},"axis":{"orient":"bottom","values":[16,18,20,22,24,26,28,30],"labelExpr":"format(datum.value,'d')","ticks":false,"tickSize":0,"labelPadding":3,"title":null}},
"y":{"datum":0.01815,"type":"quantitative","scale":{"domain":[-0.0186,0.0334],"nice":false,"zero":false},"axis":{"orient":"left","values":[-0.01,0,0.01,0.02,0.03],"labelExpr":"format(datum.value,'.2~f')","ticks":false,"tickSize":0,"labelPadding":3,"grid":true,"gridColor":"black","gridDash":[1,2],"gridWidth":1,"title":"ΔEʳᵃʷ","titleFontStyle":"italic","titleX":-51,"titleY":-2,"titleAngle":270,"titleAlign":"right","titleBaseline":"bottom"}}}},
{"data":{"values":[{}]},
"mark":{"type":"text","text":"[GeV]","font":"Liberation Sans","fontSize":17,"color":"black","align":"right","baseline":"alphabetic","dx":2,"dy":34},
"encoding":{
"x":{"datum":30.143,"type":"quantitative","scale":{"domain":[15.824,30.143],"nice":false,"zero":false},"axis":{"orient":"bottom","values":[16,18,20,22,24,26,28,30],"labelExpr":"format(datum.value,'d')","ticks":false,"tickSize":0,"labelPadding":3,"title":null}},
"y":{"datum":-0.0186,"type":"quantitative","scale":{"domain":[-0.0186,0.0334],"nice":false,"zero":false},"axis":{"orient":"left","values":[-0.01,0,0.01,0.02,0.03],"labelExpr":"format(datum.value,'.2~f')","ticks":false,"tickSize":0,"labelPadding":3,"grid":true,"gridColor":"black","gridDash":[1,2],"gridWidth":1,"title":"ΔEʳᵃʷ","titleFontStyle":"italic","titleX":-51,"titleY":-2,"titleAngle":270,"titleAlign":"right","titleBaseline":"bottom"}}}},
{"data":{"values":[{}]},
"mark":{"type":"text","text":"beam","font":"Liberation Sans","fontSize":9.5,"color":"black","align":"right","baseline":"alphabetic","dx":-46,"dy":36},
"encoding":{
"x":{"datum":30.143,"type":"quantitative","scale":{"domain":[15.824,30.143],"nice":false,"zero":false},"axis":{"orient":"bottom","values":[16,18,20,22,24,26,28,30],"labelExpr":"format(datum.value,'d')","ticks":false,"tickSize":0,"labelPadding":3,"title":null}},
"y":{"datum":-0.0186,"type":"quantitative","scale":{"domain":[-0.0186,0.0334],"nice":false,"zero":false},"axis":{"orient":"left","values":[-0.01,0,0.01,0.02,0.03],"labelExpr":"format(datum.value,'.2~f')","ticks":false,"tickSize":0,"labelPadding":3,"grid":true,"gridColor":"black","gridDash":[1,2],"gridWidth":1,"title":"ΔEʳᵃʷ","titleFontStyle":"italic","titleX":-51,"titleY":-2,"titleAngle":270,"titleAlign":"right","titleBaseline":"bottom"}}}},
{"data":{"values":[{}]},
"mark":{"type":"text","text":"E","font":"Liberation Sans","fontSize":17,"fontStyle":"italic","color":"black","align":"right","baseline":"alphabetic","dx":-70,"dy":34},
"encoding":{
"x":{"datum":30.143,"type":"quantitative","scale":{"domain":[15.824,30.143],"nice":false,"zero":false},"axis":{"orient":"bottom","values":[16,18,20,22,24,26,28,30],"labelExpr":"format(datum.value,'d')","ticks":false,"tickSize":0,"labelPadding":3,"title":null}},
"y":{"datum":-0.0186,"type":"quantitative","scale":{"domain":[-0.0186,0.0334],"nice":false,"zero":false},"axis":{"orient":"left","values":[-0.01,0,0.01,0.02,0.03],"labelExpr":"format(datum.value,'.2~f')","ticks":false,"tickSize":0,"labelPadding":3,"grid":true,"gridColor":"black","gridDash":[1,2],"gridWidth":1,"title":"ΔEʳᵃʷ","titleFontStyle":"italic","titleX":-51,"titleY":-2,"titleAngle":270,"titleAlign":"right","titleBaseline":"bottom"}}}}
]}
]
}
